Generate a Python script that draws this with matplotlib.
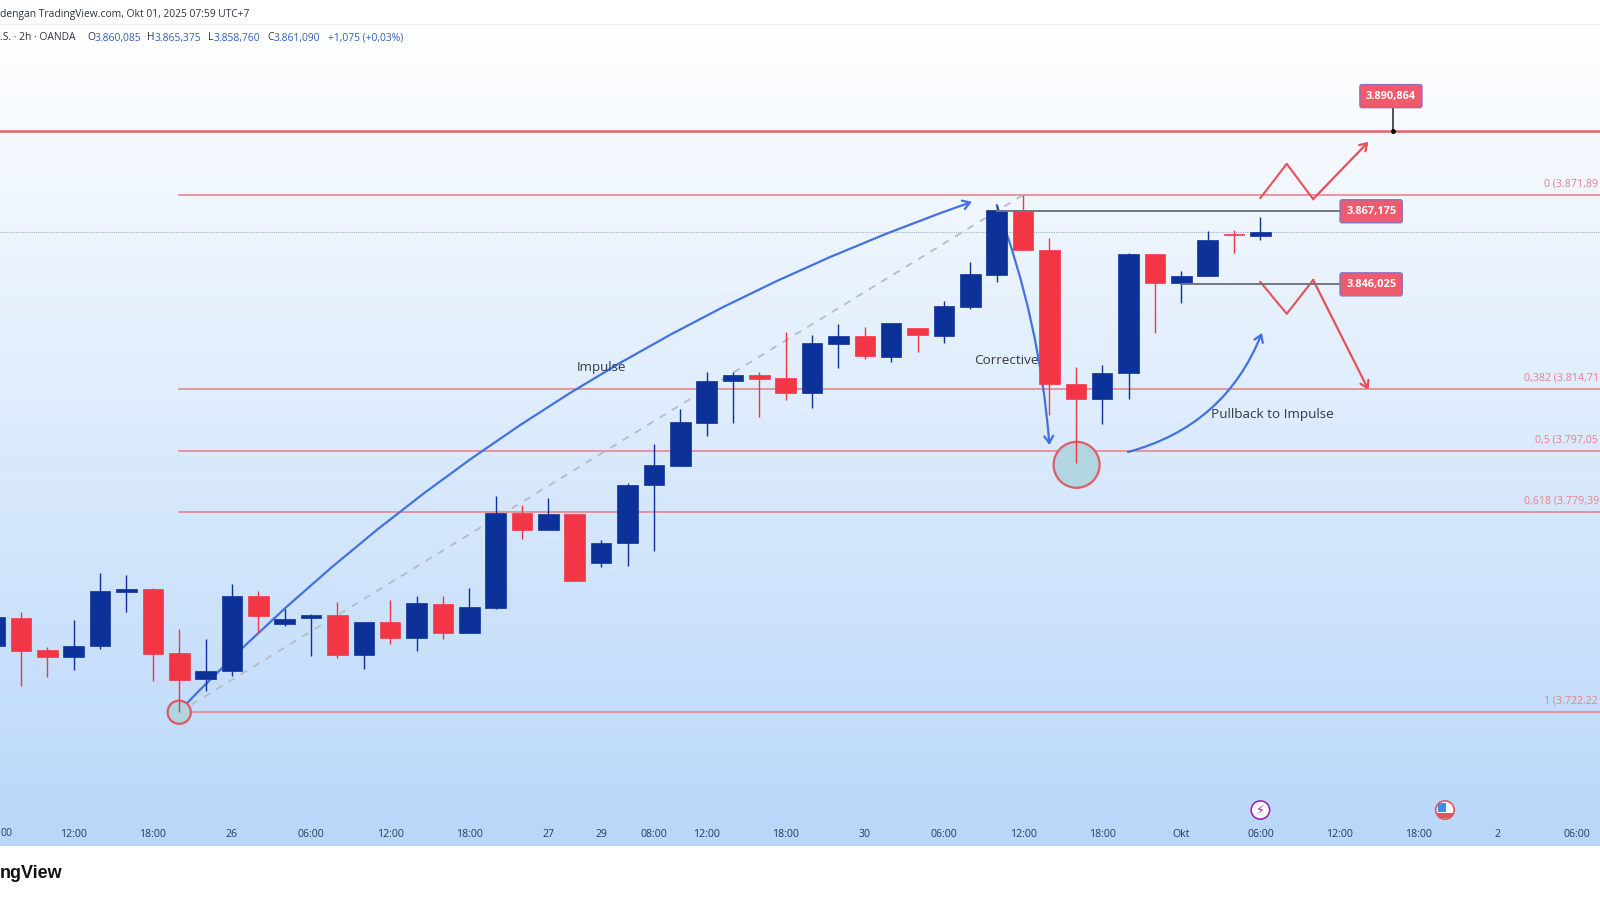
import matplotlib
matplotlib.use("Agg")
import matplotlib.pyplot as plt
import numpy as np
from matplotlib.patches import Ellipse, FancyArrowPatch, Rectangle

# candles, index -1 is the one cut off by the left edge
opens = [3741.4,3749.4,3740.1,3738.3,3741.5,3757.1,3757.9,3739.3,3731.9,3734.1,3755.8,3747.7,3749.5,3750.3,3738.8,3748.3,3743.8,
	3753.4,3745.0,3752.5,3779.8,3774.9,3779.5,3765.5,3771.3,3787.9,3793.6,3806.0,3818.1,3819.7,3818.9,3814.5,3828.9,3831.1,
	3825.1,3833.4,3831.2,3839.4,3848.7,3867.5,3856.0,3817.2,3812.9,3820.3,3854.7,3846.3,3848.5,3860.7,3860.085]
highs = [3750.3,3751.2,3741.2,3748.9,3762.6,3761.9,3758.2,3746.3,3743.4,3759.3,3757.4,3752.1,3750.6,3754.2,3748.3,3754.7,3755.9,
	3755.8,3758.2,3784.9,3782.2,3784.3,3779.6,3772.0,3788.5,3799.7,3810.0,3820.8,3820.8,3820.8,3832.2,3831.4,3834.6,3833.8,
	3834.9,3833.4,3841.2,3852.6,3869.0,3871.9,3859.5,3822.2,3822.7,3855.0,3854.8,3849.9,3861.5,3861.8,3865.375]
lows = [3740.8,3729.8,3732.4,3734.4,3740.5,3751.2,3731.2,3722.2,3728.4,3732.7,3745.1,3747.2,3738.6,3737.9,3734.7,3742.0,3739.9,
	3743.5,3745.0,3752.1,3772.3,3774.9,3760.2,3764.2,3764.5,3768.9,3793.6,3802.2,3805.9,3807.6,3812.6,3810.3,3821.9,3824.4,
	3823.6,3826.5,3829.1,3839.0,3846.7,3856.0,3808.2,3794.3,3805.6,3812.9,3832.0,3840.6,3848.4,3855.2,3858.76]
closes = [3749.8,3739.9,3738.3,3741.4,3757.4,3757.9,3739.1,3731.6,3734.1,3755.8,3750.0,3749.3,3750.3,3738.8,3748.3,3743.8,3753.7,
	3745.0,3752.7,3779.9,3774.9,3779.5,3760.3,3771.3,3788.1,3793.7,3806.1,3818.2,3819.7,3818.7,3814.5,3829.0,3831.1,3825.3,
	3834.8,3831.4,3839.8,3848.9,3867.5,3856.0,3817.2,3812.9,3820.3,3854.7,3846.3,3848.5,3858.9,3860.3,3861.09]
candle_idx = np.arange(-1, len(opens) - 1)

tick_idx = [2,5,8,11,14,17,20,22,24,26,29,32,35,38,41,44,47,50,53,56,59]
tick_labels = ["12:00","18:00","26","06:00","12:00","18:00","27","29","08:00","12:00","18:00","30",
	"06:00","12:00","18:00","Okt","06:00","12:00","18:00","2","06:00"]

fib_prices = [3871.89,3815.6,3797.9,3780.1,3722.22]
fib_labels = ["0 (3.871,89","0,382 (3.814,71","0,5 (3.797,05","0,618 (3.779,39","1 (3.722,22"]
fib_label_idx = [57.75,57.0,57.4,57.0,57.75]

target_price = 3890.4
upper_level = 3867.175
lower_level = 3846.025
last_price = 3861.09

up_path_idx = [47,48,49,51.1]
up_path_price = [3871.0,3880.9,3870.7,3887.3]
down_path_idx = [47,48,49,51.1]
down_path_price = [3846.7,3837.5,3847.3,3815.5]

UP = "#0c3299"
DOWN = "#f23645"
FIB = "#e8868c"
ARROW = "#4371e0"
REDLINE = "#e8505b"

plt.rcParams['font.family'] = ['Open Sans', 'DejaVu Sans']
fig = plt.figure(figsize=(16, 9), dpi=100, facecolor="white")
ax = fig.add_axes([0, 54 / 900, 1, 822 / 900])

# gradient behind the chart
t = np.linspace(0, 1, 256)[:, None, None]
grad = (1 - t) * np.array([[[1.0, 1.0, 1.0]]]) + t * np.array([[[0.725, 0.843, 0.98]]])
ax.imshow(grad, aspect="auto", extent=[-1, 61, 3683.49, 3921.37], zorder=0)
for s in ax.spines.values():
	s.set_visible(False)
ax.set_yticks([])
ax.set_xticks(tick_idx)
ax.set_xticklabels(tick_labels, fontsize=7.6, color="#2a3a55")
ax.tick_params(axis="x", length=0, pad=-12.5)
ax.set_xlim(-21 / 26.37, 1579 / 26.37)
ax.set_ylim(3683.49, 3921.37)
ax.text(-0.77, 0.0146, "00", fontsize=7.6, color="#2a3a55", ha="left", va="center", transform=ax.get_xaxis_transform())

# levels
ax.axhline(target_price, color="#e0646b", lw=1.8, zorder=1)
ax.axhline(last_price, color="#9fb3c8", lw=0.8, ls=(0, (1, 1)), zorder=1)
for p, lab, lx in zip(fib_prices, fib_labels, fib_label_idx):
	ax.plot([6, 61], [p, p], color=FIB, lw=1.2, zorder=1)
	ax.annotate(lab, (lx, p), xytext=(0, 8), textcoords="offset points", fontsize=7.7, color="#e8808a", va="center", annotation_clip=False)
ax.plot([6, 38], [fib_prices[4], fib_prices[0]], color="#b4bcc8", lw=1.3, ls=(0, (4, 4)), zorder=1)

# blue arrows go under the candles
def arrow(a, b, rad, color=ARROW):
	ax.add_patch(FancyArrowPatch(a, b, connectionstyle="arc3,rad=%s" % rad, arrowstyle="->,head_length=5,head_width=3.2",
		color=color, lw=1.6, shrinkA=0, shrinkB=0, zorder=2))

arrow((6, 3722.5), (36.06, 3869.9), -0.12)
arrow((37, 3869.0), (39, 3799.5), -0.07)
arrow((41.98, 3797.5), (47.06, 3832.0), 0.25)

# red scenarios
ax.plot(up_path_idx[:3], up_path_price[:3], color=REDLINE, lw=1.5, zorder=2)
arrow((up_path_idx[2], up_path_price[2]), (up_path_idx[3], up_path_price[3]), 0, REDLINE)
ax.plot(down_path_idx[:3], down_path_price[:3], color=REDLINE, lw=1.5, zorder=2)
arrow((down_path_idx[2], down_path_price[2]), (down_path_idx[3], down_path_price[3]), 0, REDLINE)

# circles
ax.add_patch(Ellipse((40.03, 3793.8), 1.744, 13.3, fc="#afd5e0", ec="#e0565f", lw=1.6, alpha=0.95, zorder=2))
ax.add_patch(Ellipse((6, 3722.2), 0.88, 6.7, fc="#afd5e0", ec="#e0565f", lw=1.6, zorder=2))

# candles
o = np.array(opens)
c = np.array(closes)
colors = [UP if b > a else DOWN for a, b in zip(o, c)]
ax.vlines(candle_idx, lows, highs, colors=colors, lw=1.0, zorder=3)
ax.bar(candle_idx, np.abs(c - o), bottom=np.minimum(o, c), width=0.78, color=colors, edgecolor=colors, lw=0.5, zorder=4)

# level lines and boxes
box = dict(boxstyle="round,pad=0.55,rounding_size=0.2", fc="#ef5a6d", ec="#8d72c4", lw=1)
ax.plot([37, 50], [upper_level, upper_level], color="#6f7780", lw=1.4, zorder=5)
ax.plot([44, 50], [lower_level, lower_level], color="#6f7780", lw=1.4, zorder=5)
ax.plot([52.03, 52.03], [target_price, 3897.3], color="#333333", lw=1.2, zorder=5)
ax.plot([52.03], [target_price], "o", color="black", ms=2.5, zorder=5)
ax.text(51.2, upper_level, "3.867,175", color="white", fontsize=7.9, fontweight="bold", ha="center", va="center", bbox=box, zorder=6)
ax.text(51.2, lower_level, "3.846,025", color="white", fontsize=7.9, fontweight="bold", ha="center", va="center", bbox=box, zorder=6)
ax.text(51.95, 3900.5, "3.890,864", color="white", fontsize=7.9, fontweight="bold", ha="center", va="center", bbox=box, zorder=6)

# annotations
ax.text(22.03, 3822.1, "Impulse", fontsize=9.5, color="#333a45", ha="center", va="center", zorder=6)
ax.text(37.36, 3824.1, "Corrective", fontsize=9.7, color="#333a45", ha="center", va="center", zorder=6)
ax.text(47.46, 3808.3, "Pullback to Impulse", fontsize=9.7, color="#333a45", ha="center", va="center", zorder=6)

# event icons on the time axis
ax.add_patch(Ellipse((47, 3693.9), 0.7, 5.3, fc="white", ec="#9c27b0", lw=1.2, zorder=6))
ax.text(47, 3693.9, "\u26a1", fontsize=9, color="#9c27b0", ha="center", va="center", family="DejaVu Sans", zorder=7)
flag = Ellipse((54, 3693.9), 0.7, 5.3, fc="white", ec="#e0565f", lw=1.2, zorder=6)
ax.add_patch(flag)
stripe = Rectangle((53.7, 3691.6), 0.6, 1.5, fc="#e0565f", ec="none", zorder=7)
ax.add_patch(stripe)
stripe.set_clip_path(flag)
ax.add_patch(Rectangle((53.75, 3693.4), 0.3, 2.4, fc="#3f8fe0", ec="none", zorder=7))

# header and footer
fig.add_artist(plt.Line2D([0, 1], [1 - 23.5 / 900] * 2, color="#eef0f3", lw=0.8))
fig.text(0, 1 - 15 / 900, "dengan TradingView.com, Okt 01, 2025 07:59 UTC+7", fontsize=7.35, color="#2c3440", va="center")
fig.text(0, 1 - 38 / 900, ".S. \u00b7 2h \u00b7 OANDA", fontsize=7.35, color="#2c3440", va="center")
head_x = [87, 147, 208, 267]
head_vx = [94.5, 155, 213.5, 273.5]
head_k = ["O", "H", "L", "C"]
head_v = ["3.860,085", "3.865,375", "3.858,760", "3.861,090"]
for hx, vx, k, v in zip(head_x, head_vx, head_k, head_v):
	fig.text(hx / 1600, 1 - 38 / 900, k, fontsize=7.35, color="#2c3440", va="center")
	fig.text(vx / 1600, 1 - 38 / 900, v, fontsize=7.35, color="#2f5fc0", va="center")
fig.text(328 / 1600, 1 - 38 / 900, "+1,075 (+0,03%)", fontsize=7.35, color="#2f5fc0", va="center")
fig.text(0, 1 - 874 / 900, "ngView", fontsize=13, fontweight="bold", family="Liberation Sans", color="#111111", va="center")

fig.savefig("out.png", dpi=100)
